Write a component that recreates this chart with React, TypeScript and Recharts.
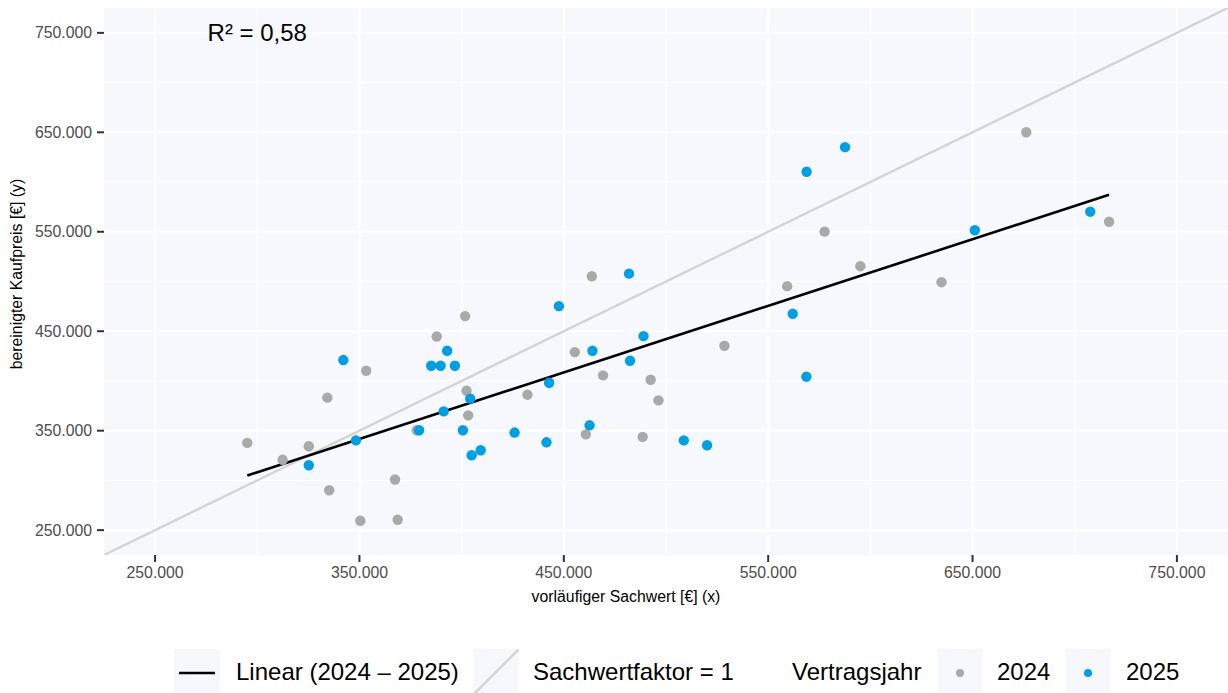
import React from "react";
import { ScatterChart, Scatter, XAxis, YAxis, CartesianGrid, ReferenceDot } from "recharts";

const FONT = "'Liberation Sans', Arial, Helvetica, sans-serif";
const PANEL = "#F7F8FD";
const GRAY = "#A9A9A9";
const BLUE = "#009FE3";

// Vertragsjahr 2024
const x2024 = [295100, 312400, 325200, 334300, 335200, 353300, 350400, 367400, 368700, 378000, 387800, 401700, 402400, 403200, 432200, 455400, 460800, 463700, 469200, 488600, 492500, 496300, 528600, 559300, 577600, 595100, 634800, 676300, 716800];
const y2024 = [337700, 320700, 334300, 383200, 290100, 410300, 259400, 300900, 260400, 350400, 444700, 465200, 390200, 365400, 386200, 429000, 346300, 505300, 405600, 343700, 401200, 380500, 435400, 495300, 550100, 515400, 499300, 650100, 560100];

// Vertragsjahr 2025
const x2025 = [325200, 342100, 348300, 379200, 385100, 389700, 392900, 396700, 391200, 400600, 404200, 404900, 409300, 425900, 442800, 441500, 447600, 462600, 464000, 481900, 482400, 489000, 508700, 520100, 562000, 568800, 568700, 587600, 651100, 707600];
const y2025 = [315200, 421000, 340300, 350400, 415300, 415300, 430300, 415300, 369400, 350400, 382200, 325300, 330300, 348100, 398200, 338300, 475200, 355400, 430300, 507900, 420300, 445100, 340300, 335300, 467500, 610300, 404300, 635100, 551500, 570200];

// lineare Regression (2024 - 2025) and Sachwertfaktor = 1
const fitX = [295100, 716800];
const fitY = [304900, 587200];
const idX = [225000, 775000];
const idY = [225000, 775000];

const majorTicks = [250000, 350000, 450000, 550000, 650000, 750000];
const minorTicks = [300000, 400000, 500000, 600000, 700000];
const domain = [225000, 775000];

const years = ["2024", "2025"];
const yearColors = [GRAY, BLUE];

const zip = (xs: number[], ys: number[]) => xs.map((x, i) => ({ x, y: ys[i] }));

const fmt = (v: number) => String(v).replace(/\B(?=(\d{3})+(?!\d))/g, ".");

const dot = (color: string) => (props: any) => (
  <circle cx={props.cx} cy={props.cy} r={5.2} fill={color} />
);
const none = () => <g />;

const tickStyle = { fill: "#4D4D4D", fontSize: 15.8, fontFamily: FONT };

// axis titles sit a bit off the panel centre in the original
const xTitle = () => (
  <text x={626} y={602} textAnchor="middle" fontSize={15.8} fontFamily={FONT} fill="#000">
    vorläufiger Sachwert [€] (x)
  </text>
);
const yTitle = () => (
  <text x={0} y={0} transform="translate(22,274) rotate(-90)" textAnchor="middle" fontSize={15.8} fontFamily={FONT} fill="#000">
    bereinigter Kaufpreis [€] (y)
  </text>
);

function LegendBar() {
  const box = (left: number): React.CSSProperties => ({
    position: "absolute", left, top: 649, width: 46, height: 46, background: PANEL,
  });
  const txt = (left: number): React.CSSProperties => ({
    position: "absolute", left, top: 649, height: 46, lineHeight: "46px",
    fontSize: 24, color: "#000", whiteSpace: "nowrap",
  });
  return (
    <>
      <div style={box(174)}>
        <svg width={46} height={46}>
          <line x1={5} y1={24} x2={41} y2={24} stroke="#000" strokeWidth={2.4} />
        </svg>
      </div>
      <div style={txt(236)}>Linear (2024 – 2025)</div>
      <div style={box(473)}>
        <svg width={46} height={46}>
          <line x1={0} y1={46} x2={46} y2={0} stroke="#D3D3D3" strokeWidth={2.4} />
        </svg>
      </div>
      <div style={txt(533)}>Sachwertfaktor = 1</div>
      <div style={txt(792)}>Vertragsjahr</div>
      {years.map((yr, i) => (
        <React.Fragment key={yr}>
          <div style={box(i === 0 ? 937 : 1065)}>
            <svg width={46} height={46}>
              <circle cx={23} cy={24} r={4} fill={yearColors[i]} />
            </svg>
          </div>
          <div style={txt(i === 0 ? 997 : 1126)}>{yr}</div>
        </React.Fragment>
      ))}
    </>
  );
}

export default function App() {
  return (
    <div style={{ position: "absolute", left: 0, top: 0, width: 1228, height: 693, background: "#fff", fontFamily: FONT, overflow: "hidden" }}>
      <ScatterChart width={1228} height={693} margin={{ top: 8, right: 0, bottom: 88, left: 0 }}>
        <CartesianGrid fill={PANEL} stroke="#FFFFFF" strokeWidth={1} horizontalValues={minorTicks} verticalValues={minorTicks} />
        <CartesianGrid stroke="#FFFFFF" strokeWidth={2} horizontalValues={majorTicks} verticalValues={majorTicks} />
        <XAxis
          type="number" dataKey="x" domain={domain} ticks={majorTicks} allowDataOverflow
          tickFormatter={fmt} tick={tickStyle} axisLine={false}
          tickLine={{ stroke: "#333333", strokeWidth: 2 }} tickSize={7} tickMargin={5} height={50}
          label={{ content: xTitle }}
        />
        <YAxis
          type="number" dataKey="y" domain={domain} ticks={majorTicks} allowDataOverflow
          tickFormatter={fmt} tick={tickStyle} axisLine={false}
          tickLine={{ stroke: "#333333", strokeWidth: 2 }} tickSize={7} tickMargin={5} width={104}
          label={{ content: yTitle }}
        />
        <Scatter data={zip(idX, idY)} line={{ stroke: "#D3D3D3", strokeWidth: 2.4 }} shape={none} isAnimationActive={false} />
        <Scatter data={zip(fitX, fitY)} line={{ stroke: "#000000", strokeWidth: 2.6 }} shape={none} isAnimationActive={false} />
        <Scatter data={zip(x2024, y2024)} shape={dot(GRAY)} isAnimationActive={false} />
        <Scatter data={zip(x2025, y2025)} shape={dot(BLUE)} isAnimationActive={false} />
        <ReferenceDot x={300000} y={750000} r={0} label={{ value: "R² = 0,58", position: "center", fontSize: 24, fill: "#000", fontFamily: FONT }} />
      </ScatterChart>
      <LegendBar />
    </div>
  );
}
